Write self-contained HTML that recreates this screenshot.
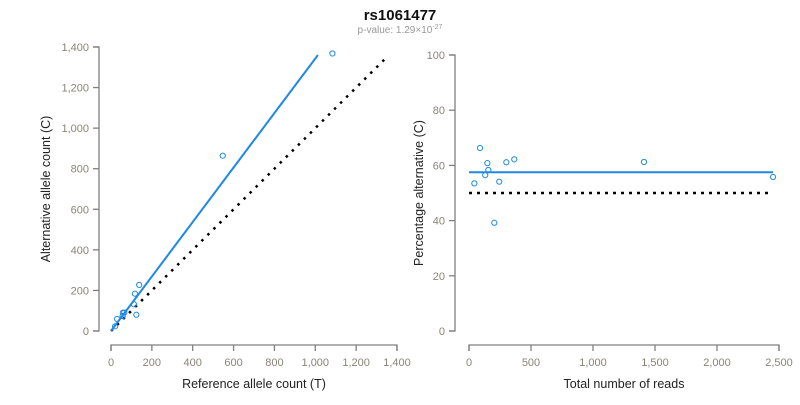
<!DOCTYPE html>
<html><head><meta charset="utf-8"><style>
body{margin:0;background:#fff}
svg{font-family:"Liberation Sans",Arial,sans-serif}
.tk{fill:#8a8478;font-size:11px}
.ax{stroke:#7f7f7f;stroke-width:1.3;fill:none}
.lab{fill:#222;font-size:12.5px}
</style></head><body>
<svg id="c" width="800" height="400">
<text x="400" y="20" text-anchor="middle" font-weight="bold" font-size="15" fill="#111">rs1061477</text>
<text x="400" y="33" text-anchor="middle" font-size="10" fill="#999">p-value: 1.29×10<tspan dy="-4" font-size="7">-27</tspan></text>
<g id="L"></g><g id="R"></g>
</svg>
<script>
const refCounts=[30,58,65,57,20,117,138,112,124,547,1084];
const altCounts=[59,90,91,74,23,184,227,132,80,864,1368];
const leftTicks=[0,200,400,600,800,1000,1200,1400];
const rightXTicks=[0,500,1000,1500,2000,2500];
const rightYTicks=[0,20,40,60,80,100];
const fitSlope=[1.343];
const fitMaxRef=[1013];
const meanPct=[57.5];
const NS="http://www.w3.org/2000/svg";
function mk(p,t,a){const e=document.createElementNS(NS,t);for(const k in a)e.setAttribute(k,a[k]);p.appendChild(e);return e;}
const fmt=v=>v.toLocaleString('en-US');
// left scales
const lx=v=>111+v*(286/1400), ly=v=>331-v*(284/1400);
const rx=v=>469+v*(310/2500), ry=v=>331-v*2.76;
const L=document.getElementById('L'), R=document.getElementById('R');
function axes(g,xs,ys,xt,yt,x0,y0,xl,yl,pre){
  let a=mk(g,'path',{class:'ax',d:`M${xs(xt[0])},${y0+6}V${y0}H${xs(xt[xt.length-1])}V${y0+6}`});
  
  xt.forEach(v=>{const l=mk(g,'line',{class:'ax',x1:xs(v),x2:xs(v),y1:y0,y2:y0+6});
    
    const t=mk(g,'text',{class:'tk',x:xs(v),y:y0+21,'text-anchor':'middle'});t.textContent=fmt(v);
    });
  let b=mk(g,'path',{class:'ax',d:`M${x0-6},${ys(yt[0])}H${x0}V${ys(yt[yt.length-1])}H${x0-6}`});
  
  yt.forEach(v=>{const l=mk(g,'line',{class:'ax',x1:x0-6,x2:x0,y1:ys(v),y2:ys(v)});
    
    const t=mk(g,'text',{class:'tk',x:x0-10,y:ys(v)+4,'text-anchor':'end'});t.textContent=fmt(v);
    });
  const xm=(xs(xt[0])+xs(xt[xt.length-1]))/2;
  const t1=mk(g,'text',{class:'lab',x:xm,y:388,'text-anchor':'middle'});t1.textContent=xl;
  
  const ym=(ys(yt[0])+ys(yt[yt.length-1]))/2, tx=pre=='left-'?50:423;
  const t2=mk(g,'text',{class:'lab',x:tx,y:ym,'text-anchor':'middle',transform:`rotate(-90 ${tx} ${ym})`});t2.textContent=yl;
  
}
axes(L,lx,ly,leftTicks,leftTicks,99,345,'Reference allele count (T)','Alternative allele count (C)','left-');
axes(R,rx,ry,rightXTicks,rightYTicks,455,345,'Total number of reads','Percentage alternative (C)','right-');
let e;
const maxRef=Math.max(...refCounts)*1.245;
e=mk(L,'line',{x1:lx(0),y1:ly(0),x2:lx(maxRef),y2:ly(maxRef),stroke:'#000','stroke-width':2.5,'stroke-dasharray':'2.5 6'});

e=mk(L,'line',{x1:lx(0),y1:ly(0),x2:lx(fitMaxRef[0]),y2:ly(fitMaxRef[0]*fitSlope[0]),stroke:'#1e88e5','stroke-width':2});

const totals=refCounts.map((r,i)=>r+altCounts[i]);
const maxT=Math.max(...totals);
e=mk(R,'line',{x1:rx(0),y1:ry(50),x2:rx(maxT*0.99),y2:ry(50),stroke:'#000','stroke-width':2.5,'stroke-dasharray':'3 5'});

e=mk(R,'line',{x1:rx(0),y1:ry(meanPct[0]),x2:rx(maxT),y2:ry(meanPct[0]),stroke:'#1e88e5','stroke-width':2});

refCounts.forEach((r,i)=>{
  const a=altCounts[i];
  const p=mk(L,'circle',{cx:lx(r),cy:ly(a),r:2.6,fill:'none',stroke:'#1e88e5','stroke-width':1});
  
  const q=mk(R,'circle',{cx:rx(r+a),cy:ry(100*a/(r+a)),r:2.6,fill:'none',stroke:'#1e88e5','stroke-width':1});
  
});
</script>
</body></html>
